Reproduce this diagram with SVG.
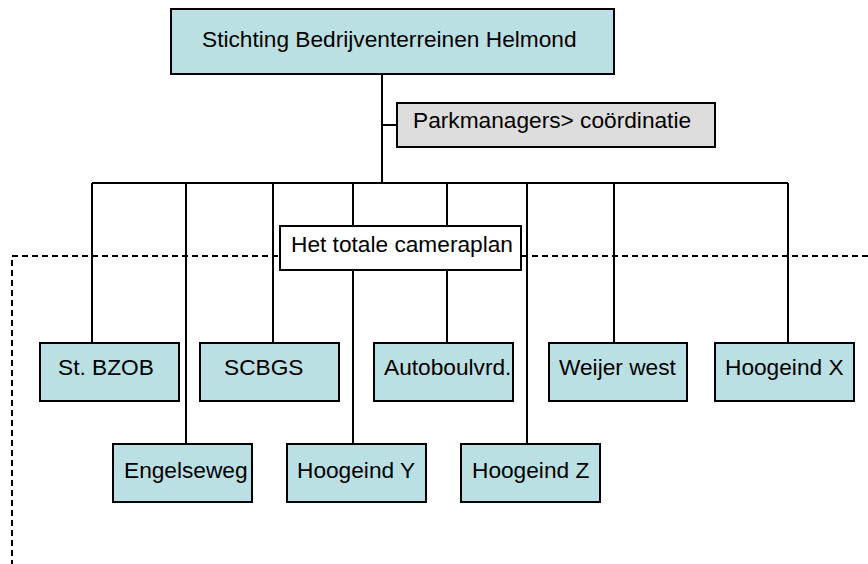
<svg xmlns="http://www.w3.org/2000/svg" width="868" height="564" viewBox="0 0 868 564">
<style>
.box{fill:#bbe0e3;stroke:#000;stroke-width:2}
.grey{fill:#dddddd;stroke:#000;stroke-width:2}
.white{fill:#fff;stroke:#000;stroke-width:2}
.t{font-family:"Liberation Sans",Arial,sans-serif;font-size:22.7px;fill:#000}
.c{stroke:#000;stroke-width:2;fill:none}
.d{stroke:#000;stroke-width:2;fill:none;stroke-dasharray:6 4}
</style>
<rect width="868" height="564" fill="#fff"/>
<g id="connectors">
<path class="c" d="M382 74V183M382 125H397M92 183H788"/>
<path class="c" d="M92 183V343M186 183V444M273 183V343M353 183V444M447 183V343M527 183V444M614 183V343M788 183V343"/>
<path class="d" d="M868 256H12V564"/>
</g>
<g id="top"><rect class="box" x="171" y="9" width="443" height="65"/><text class="t" x="202" y="47">Stichting Bedrijventerreinen Helmond</text></g>
<g id="parkmanagers"><rect class="grey" x="397" y="103" width="318" height="44"/><text class="t" x="413" y="128">Parkmanagers&gt; coördinatie</text></g>
<g id="cameraplan"><rect class="white" x="280" y="226" width="241" height="44"/><text class="t" x="291" y="252">Het totale cameraplan</text></g>
<g id="stbzob"><rect class="box" x="40" y="343" width="139" height="58"/><text class="t" x="58" y="375">St. BZOB</text></g>
<g id="scbgs"><rect class="box" x="200" y="343" width="139" height="58"/><text class="t" x="224" y="375">SCBGS</text></g>
<g id="autoboulvrd"><rect class="box" x="374" y="343" width="139" height="58"/><text class="t" x="384" y="375">Autoboulvrd.</text></g>
<g id="weijerwest"><rect class="box" x="549" y="343" width="138" height="58"/><text class="t" x="559" y="375">Weijer west</text></g>
<g id="hoogeindx"><rect class="box" x="715" y="343" width="139" height="58"/><text class="t" x="725" y="375">Hoogeind X</text></g>
<g id="engelseweg"><rect class="box" x="113" y="444" width="139" height="58"/><text class="t" x="124" y="478">Engelseweg</text></g>
<g id="hoogeindy"><rect class="box" x="287" y="444" width="139" height="58"/><text class="t" x="297" y="478">Hoogeind Y</text></g>
<g id="hoogeindz"><rect class="box" x="461" y="444" width="139" height="58"/><text class="t" x="472" y="478">Hoogeind Z</text></g>
</svg>
